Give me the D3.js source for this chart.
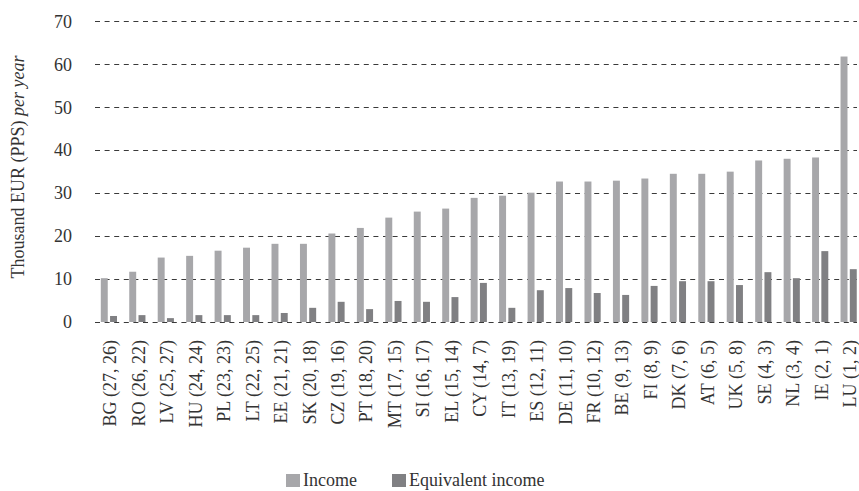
<!DOCTYPE html>
<html>
<head>
<meta charset="utf-8">
<script src="https://cdn.jsdelivr.net/npm/d3@7"></script>
<style>
  body { margin: 0; background: #fff; }
  svg { display: block; }
</style>
</head>
<body>
<div id="chart"></div>
<script>
// countries, ordered by income (rank by income, rank by equivalent income)
var countries = ["BG (27, 26)", "RO (26, 22)", "LV (25, 27)", "HU (24, 24)", "PL (23, 23)",
  "LT (22, 25)", "EE (21, 21)", "SK (20, 18)", "CZ (19, 16)", "PT (18, 20)", "MT (17, 15)",
  "SI (16, 17)", "EL (15, 14)", "CY (14, 7)", "IT (13, 19)", "ES (12, 11)", "DE (11, 10)",
  "FR (10, 12)", "BE (9, 13)", "FI (8, 9)", "DK (7, 6)", "AT (6, 5)", "UK (5, 8)",
  "SE (4, 3)", "NL (3, 4)", "IE (2, 1)", "LU (1, 2)"];

var income = [10.2, 11.7, 15.0, 15.4, 16.6, 17.3, 18.2, 18.2, 20.6, 21.9, 24.3,
  25.7, 26.4, 28.9, 29.4, 30.1, 32.7, 32.7, 32.9, 33.4, 34.5, 34.5, 35.0,
  37.6, 38.0, 38.3, 61.8];

var equivIncome = [1.4, 1.6, 0.9, 1.6, 1.6, 1.6, 2.1, 3.3, 4.7, 3.0, 4.9,
  4.7, 5.8, 9.1, 3.3, 7.4, 7.9, 6.75, 6.3, 8.4, 9.5, 9.5, 8.6,
  11.6, 10.2, 16.5, 12.3];

var yTicks = [0, 10, 20, 30, 40, 50, 60, 70];
var seriesNames = ["Income", "Equivalent income"];
var seriesColors = ["#a7a7aa", "#808083"];

var width = 859, height = 491;
var font = "'Liberation Serif', 'Times New Roman', serif";

var svg = d3.select("#chart").append("svg")
    .attr("width", width)
    .attr("height", height)
    .style("font-family", font);

var x = d3.scaleBand().domain(countries).range([95.3, 863.5]).paddingInner(0).paddingOuter(0);
var xSub = d3.scaleBand().domain(seriesNames).range([5.5, 21.7]).paddingInner(0.25);
var y = d3.scaleLinear().domain([0, 70]).range([322, 21.3]);

// dashed gridlines
svg.append("g").attr("class", "grid")
  .selectAll("line").data(yTicks).enter().append("line")
    .attr("x1", 95).attr("x2", 857)
    .attr("y1", function(d) { return Math.round(y(d)) + 0.5; })
    .attr("y2", function(d) { return Math.round(y(d)) + 0.5; })
    .attr("stroke", "#3a3a3a")
    .attr("stroke-width", 1)
    .attr("stroke-dasharray", "5,4.6");

// y tick labels
svg.append("g").attr("class", "yticks")
  .selectAll("text").data(yTicks).enter().append("text")
    .attr("x", 72)
    .attr("y", function(d) { return y(d); })
    .attr("dy", "0.35em")
    .attr("text-anchor", "end")
    .attr("font-size", 18)
    .attr("fill", "#333")
    .text(function(d) { return d; });

// y axis title
var yTitle = svg.append("text")
    .attr("transform", "translate(24," + 167 + ") rotate(-90)")
    .attr("text-anchor", "middle")
    .attr("font-size", 18)
    .attr("fill", "#333");
yTitle.append("tspan").text("Thousand EUR (PPS) ");
yTitle.append("tspan").attr("font-style", "italic").text("per year");

// bars
var rows = countries.map(function(c, i) {
  return { name: c, values: [income[i], equivIncome[i]] };
});

var groups = svg.append("g").attr("class", "bars")
  .selectAll("g").data(rows).enter().append("g")
    .attr("transform", function(d) { return "translate(" + x(d.name) + ",0)"; });

groups.selectAll("rect").data(function(d) {
    return seriesNames.map(function(s, k) { return { key: s, k: k, value: d.values[k] }; });
  }).enter().append("rect")
    .attr("x", function(d) { return xSub(d.key); })
    .attr("width", xSub.bandwidth())
    .attr("y", function(d) { return y(d.value); })
    .attr("height", function(d) { return y(0) - y(d.value); })
    .attr("fill", function(d) { return seriesColors[d.k]; });

// category labels
svg.append("g").attr("class", "xlabels")
  .selectAll("text").data(countries).enter().append("text")
    .attr("transform", function(d) {
      return "translate(" + (x(d) + x.bandwidth() / 2 + 0.5) + ",340) rotate(-90)";
    })
    .attr("dy", "0.35em")
    .attr("text-anchor", "end")
    .attr("font-size", 18)
    .attr("fill", "#333")
    .text(function(d) { return d; });

// legend
var legendX = [286, 392];
var legend = svg.append("g").attr("class", "legend")
  .selectAll("g").data(seriesNames).enter().append("g")
    .attr("transform", function(d, i) { return "translate(" + legendX[i] + ",474)"; });

legend.append("rect")
    .attr("width", 14).attr("height", 13)
    .attr("fill", function(d, i) { return seriesColors[i]; });

legend.append("text")
    .attr("x", 17).attr("y", 12)
    .attr("font-size", 18)
    .attr("fill", "#333")
    .text(function(d) { return d; });
</script>
</body>
</html>
